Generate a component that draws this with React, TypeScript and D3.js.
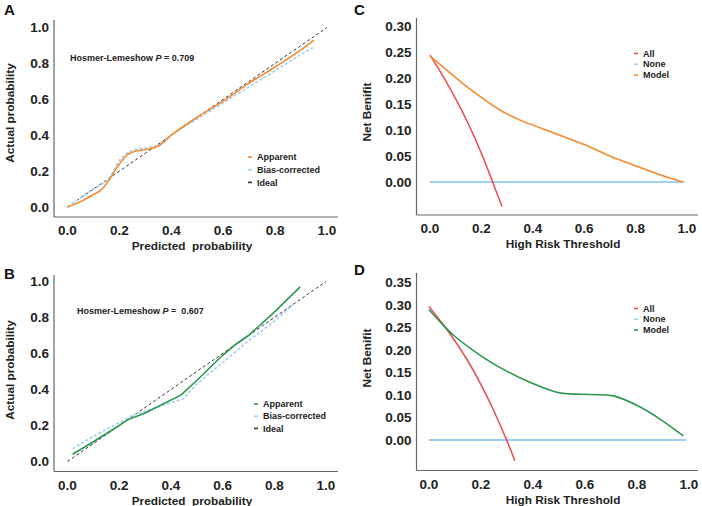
import React, { useEffect, useRef } from 'react';
import * as d3 from 'd3';

// calibration A
const calA_x = [0, 0.05, 0.1, 0.13, 0.16, 0.2, 0.23, 0.26, 0.3, 0.35, 0.4, 0.5, 0.6, 0.7, 0.8, 0.9, 0.95];
const calA_apparent = [0, 0.03, 0.07, 0.095, 0.15, 0.24, 0.29, 0.31, 0.32, 0.34, 0.4, 0.5, 0.59, 0.69, 0.78, 0.875, 0.93];
const calA_bias = [0, 0.05, 0.1, 0.125, 0.16, 0.26, 0.3, 0.32, 0.33, 0.34, 0.4, 0.49, 0.58, 0.67, 0.76, 0.85, 0.89];
// calibration B
const calB_x = [0.02, 0.1, 0.2, 0.23, 0.3, 0.44, 0.5, 0.6, 0.65, 0.7, 0.8, 0.9];
const calB_apparent = [0.04, 0.11, 0.2, 0.23, 0.27, 0.37, 0.45, 0.59, 0.65, 0.7, 0.83, 0.97];
const calB_xBias = [0.02, 0.1, 0.25, 0.45, 0.5, 0.6, 0.7, 0.8, 0.88];
const calB_bias = [0.07, 0.14, 0.255, 0.35, 0.43, 0.55, 0.67, 0.78, 0.88];
const hlA = '0.709';
const hlB = '0.607';

// decision curves C
const dcC_allX = [0, 0.05, 0.1, 0.15, 0.2, 0.25, 0.28];
const dcC_all = [0.244, 0.204, 0.16, 0.111, 0.055, -0.008, -0.047];
const dcC_modelX = [0, 0.08, 0.16, 0.27, 0.35, 0.43, 0.5, 0.6, 0.7, 0.8, 0.9, 0.985];
const dcC_model = [0.242, 0.209, 0.177, 0.139, 0.119, 0.104, 0.091, 0.072, 0.05, 0.031, 0.013, 0];
// decision curves D
const dcD_allX = [0, 0.05, 0.1, 0.15, 0.2, 0.25, 0.3, 0.33];
const dcD_all = [0.297, 0.26, 0.22, 0.175, 0.123, 0.064, -0.002, -0.046];
const dcD_modelX = [0, 0.05, 0.1, 0.2, 0.27, 0.39, 0.5, 0.62, 0.71, 0.81, 0.89, 0.978];
const dcD_model = [0.29, 0.258, 0.23, 0.187, 0.162, 0.128, 0.105, 0.101, 0.098, 0.074, 0.046, 0.009];

const calTicks = [0, 0.2, 0.4, 0.6, 0.8, 1.0];
const dcTicksC = [0, 0.05, 0.1, 0.15, 0.2, 0.25, 0.3];
const dcTicksD = [0, 0.05, 0.1, 0.15, 0.2, 0.25, 0.3, 0.35];

const ORANGE = '#f58a2e';
const BLUE = '#9fd0f3';
const GREEN = '#2a9650';
const RED = '#ef4b4b';
const FONT = 'Liberation Sans, Arial, sans-serif';

const App = () => {
  const svgRef = useRef(null);

  useEffect(() => {
    document.body.style.margin = '0';
    const svg = d3.select(svgRef.current);
    svg.selectAll('*').remove();
    svg.style('font-family', FONT);

    const frame = (g, o) => {
      g.append('line').attr('x1', o.axX).attr('x2', o.axX).attr('y1', o.top).attr('y2', o.bottom)
        .attr('stroke', '#666').attr('stroke-width', 1.2);
      g.append('line').attr('x1', o.axX).attr('x2', o.right).attr('y1', o.bottom).attr('y2', o.bottom)
        .attr('stroke', '#666').attr('stroke-width', 1.2);
      o.yTicks.forEach(t => {
        g.append('text').attr('x', o.axX - 5).attr('y', o.y(t)).attr('dy', '0.35em')
          .attr('text-anchor', 'end').attr('font-size', 13.5).attr('font-weight', 'bold')
          .attr('fill', '#222').text(d3.format(o.yFmt)(t));
      });
      calTicks.forEach(t => {
        g.append('text').attr('x', o.x(t)).attr('y', o.bottom + 18)
          .attr('text-anchor', 'middle').attr('font-size', 13.5).attr('font-weight', 'bold')
          .attr('fill', '#222').text(d3.format('.1f')(t));
      });
      g.append('text').attr('x', o.xTitleX).attr('y', o.bottom + 33).attr('text-anchor', 'middle')
        .attr('font-size', 11.8).attr('font-weight', 'bold').attr('fill', '#222')
        .attr('xml:space', 'preserve').text(o.xTitle);
      g.append('text').attr('transform', `translate(${o.yTitleX},${o.yTitleY}) rotate(-90)`)
        .attr('text-anchor', 'middle').attr('font-size', 11.8).attr('font-weight', 'bold')
        .attr('fill', '#222').text(o.yTitle);
      g.append('text').attr('x', o.letterX).attr('y', o.letterY).attr('font-size', 15)
        .attr('font-weight', 'bold').attr('fill', '#111').text(o.letter);
    };

    const legend = (g, x, y, items, step) => {
      items.forEach((it, i) => {
        g.append('line').attr('x1', x).attr('x2', x + 4).attr('y1', y + i * step).attr('y2', y + i * step)
          .attr('stroke', it.color).attr('stroke-width', 1.6);
        g.append('text').attr('x', x + 9).attr('y', y + i * step).attr('dy', '0.35em')
          .attr('font-size', 9).attr('font-weight', 'bold').attr('fill', '#222').text(it.label);
      });
    };

    const path = (g, xs, ys, x, y, color, width, dash, curve) => {
      const line = d3.line().x(d => x(d[0])).y(d => y(d[1])).curve(curve);
      g.append('path').attr('d', line(xs.map((v, i) => [v, ys[i]])))
        .attr('fill', 'none').attr('stroke', color).attr('stroke-width', width)
        .attr('stroke-dasharray', dash || null);
    };
    const smooth = d3.curveCatmullRom.alpha(0.5);

    // ---------- A ----------
    {
      const g = svg.append('g');
      const x = d3.scaleLinear().domain([0, 1]).range([67.5, 327]);
      const y = d3.scaleLinear().domain([0, 1]).range([207, 27.5]);
      frame(g, { axX: 54, top: 20, bottom: 217, right: 338, x, y, yTicks: calTicks, yFmt: '.1f',
        xTitle: 'Predicted  probability', xTitleX: 192, yTitle: 'Actual probability', yTitleX: 14, yTitleY: 113,
        letter: 'A', letterX: 4, letterY: 15 });
      path(g, [0, 1], [0, 1], x, y, '#333', 1, '3,2.5', d3.curveLinear);
      path(g, calA_x, calA_bias, x, y, BLUE, 1.6, '3,2', d3.curveMonotoneX);
      path(g, calA_x, calA_apparent, x, y, ORANGE, 1.6, null, d3.curveMonotoneX);
      const t = g.append('text').attr('x', 70).attr('y', 61).attr('font-size', 9).attr('font-weight', 'bold').attr('fill', '#222');
      t.append('tspan').text('Hosmer-Lemeshow ');
      t.append('tspan').attr('font-style', 'italic').text('P');
      t.append('tspan').text(` = ${hlA}`);
      legend(g, 248, 157, [{ label: 'Apparent', color: ORANGE }, { label: 'Bias-corrected', color: BLUE }, { label: 'Ideal', color: '#333' }], 12.7);
    }

    // ---------- B ----------
    {
      const g = svg.append('g');
      const x = d3.scaleLinear().domain([0, 1]).range([67.5, 326]);
      const y = d3.scaleLinear().domain([0, 1]).range([461.5, 281.5]);
      frame(g, { axX: 54, top: 275, bottom: 471.5, right: 338, x, y, yTicks: calTicks, yFmt: '.1f',
        xTitle: 'Predicted  probability', xTitleX: 192, yTitle: 'Actual probability', yTitleX: 14, yTitleY: 370,
        letter: 'B', letterX: 4, letterY: 279 });
      path(g, [0, 1], [0, 1], x, y, '#333', 1, '3,2.5', d3.curveLinear);
      path(g, calB_xBias, calB_bias, x, y, BLUE, 1.6, '3,2', d3.curveLinear);
      path(g, calB_x, calB_apparent, x, y, GREEN, 1.6, null, d3.curveLinear);
      const t = g.append('text').attr('x', 77).attr('y', 314).attr('font-size', 9).attr('font-weight', 'bold').attr('fill', '#222');
      t.append('tspan').text('Hosmer-Lemeshow ');
      t.append('tspan').attr('font-style', 'italic').text('P');
      t.append('tspan').attr('xml:space', 'preserve').text(` =  ${hlB}`);
      legend(g, 254, 404, [{ label: 'Apparent', color: GREEN }, { label: 'Bias-corrected', color: BLUE }, { label: 'Ideal', color: '#333' }], 12.2);
    }

    // ---------- C ----------
    {
      const g = svg.append('g');
      const x = d3.scaleLinear().domain([0, 1]).range([430, 687]);
      const y = d3.scaleLinear().domain([0, 0.3]).range([182, 26]);
      frame(g, { axX: 416.5, top: 18, bottom: 215, right: 698, x, y, yTicks: dcTicksC, yFmt: '.2f',
        xTitle: 'High Risk Threshold', xTitleX: 563, yTitle: 'Net Benifit', yTitleX: 371, yTitleY: 112,
        letter: 'C', letterX: 354, letterY: 15 });
      path(g, [0, 0.99], [0, 0], x, y, BLUE, 2.2, null, d3.curveLinear);
      path(g, dcC_allX, dcC_all, x, y, RED, 1.5, null, smooth);
      path(g, dcC_modelX, dcC_model, x, y, ORANGE, 1.6, null, smooth);
      legend(g, 634, 53.5, [{ label: 'All', color: RED }, { label: 'None', color: BLUE }, { label: 'Model', color: ORANGE }], 10.8);
    }

    // ---------- D ----------
    {
      const g = svg.append('g');
      const x = d3.scaleLinear().domain([0, 1]).range([429, 689]);
      const y = d3.scaleLinear().domain([0, 0.35]).range([440, 282.5]);
      frame(g, { axX: 416.5, top: 273, bottom: 470.5, right: 698, x, y, yTicks: dcTicksD, yFmt: '.2f',
        xTitle: 'High Risk Threshold', xTitleX: 563, yTitle: 'Net Benifit', yTitleX: 371, yTitleY: 358,
        letter: 'D', letterX: 354, letterY: 275 });
      path(g, [0, 0.99], [0, 0], x, y, BLUE, 2.2, null, d3.curveLinear);
      path(g, dcD_allX, dcD_all, x, y, RED, 1.5, null, smooth);
      path(g, dcD_modelX, dcD_model, x, y, GREEN, 1.6, null, smooth);
      legend(g, 634, 308.5, [{ label: 'All', color: RED }, { label: 'None', color: BLUE }, { label: 'Model', color: GREEN }], 10.8);
    }
  }, []);

  return <svg ref={svgRef} width={702} height={506} style={{ display: 'block', background: '#fff' }} />;
};

export default App;
